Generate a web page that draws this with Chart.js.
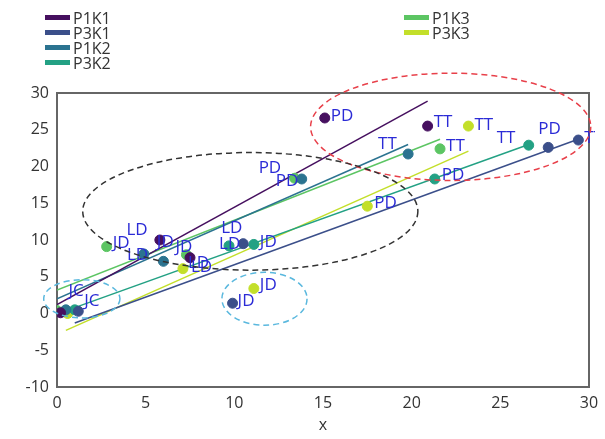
<!DOCTYPE html>
<html>
<head>
<meta charset="utf-8">
<script src="https://cdn.jsdelivr.net/npm/chart.js@4/dist/chart.umd.min.js"></script>
<style>
  html, body { margin: 0; padding: 0; background: #fff; }
  #wrap { position: relative; width: 605px; height: 439px; }
  #legend { position: absolute; left: 0; top: 0; width: 605px; height: 80px; font-family: "Open Sans", sans-serif; font-size: 16px; color: #333; }
  .item { position: absolute; display: flex; align-items: center; height: 15px; }
  .sw { width: 25px; height: 5px; margin-right: 3px; }
</style>
</head>
<body>
<div id="wrap">
  <canvas id="c" width="605" height="439"></canvas>
  <div id="legend"></div>
</div>
<script>
// --- DATA ---
const seriesNames = ["P1K1", "P3K1", "P1K2", "P3K2", "P1K3", "P3K3"];
const seriesColors = ["#46105f", "#3b4f8a", "#2b7390", "#23a184", "#5cc563", "#c3df2a"];
const stages = ["JC", "LD", "JD", "PD", "TT"];

const p1k1X = [0.2, 7.5, 5.8, 15.1, 20.9];
const p1k1Y = [0.1, 7.6, 10.0, 26.6, 25.5];
const p3k1X = [1.2, 10.5, 9.9, 27.7, 29.4];
const p3k1Y = [0.3, 9.5, 1.4, 22.6, 23.6];
const p1k2X = [0.5, 4.9, 6.0, 13.8, 19.8];
const p1k2Y = [0.5, 8.1, 7.1, 18.3, 21.7];
const p3k2X = [1.0, 9.7, 11.1, 21.3, 26.6];
const p3k2Y = [0.5, 9.2, 9.4, 18.3, 22.9];
const p1k3X = [0.0, 7.3, 2.8, 13.4, 21.6];
const p1k3Y = [0.4, 8.0, 9.1, 18.4, 22.4];
const p3k3X = [0.6, 7.1, 11.1, 17.5, 23.2];
const p3k3Y = [0.0, 6.1, 3.4, 14.6, 25.5];

// fitted lines: [start, end]
const fitX = [[0, 20.9], [1.0, 29.5], [0, 19.8], [1.0, 26.6], [0, 21.6], [0.5, 23.2]];
const fitY = [[1.2, 28.9], [-1.3, 23.8], [2.0, 23.0], [0.8, 23.0], [3.2, 23.7], [-2.3, 22.1]];

// which stage labels are visible per series
const showLabel = [
  [true, true, true, true, true],
  [true, true, true, true, true],
  [false, true, true, true, true],
  [false, true, true, true, true],
  [false, true, true, true, true],
  [false, true, true, true, true]
];

const xTicks = [0, 5, 10, 15, 20, 25, 30];
const yTicks = [-10, -5, 0, 5, 10, 15, 20, 25, 30];

// label offsets in px (dx, dy) from the point
const labelOffsets = {
  "0-0": [8, -22], "0-1": [-2, 6], "0-2": [-3, 2], "0-3": [6, -2], "0-4": [6, -4],
  "1-0": [6, -10], "1-1": [-22, -16], "1-2": [5, -2], "1-3": [-10, -18], "1-4": [6, -2],
  "2-1": [-17, 1], "2-2": [12, -14], "2-3": [-26, 2], "2-4": [-30, -10],
  "3-1": [-10, -2], "3-2": [6, -2], "3-3": [7, -4], "3-4": [-32, -7],
  "4-1": [-60, -25], "4-2": [6, -3], "4-3": [-36, -10], "4-4": [6, -3],
  "5-1": [8, -2], "5-2": [6, -3], "5-3": [7, -3], "5-4": [6, -1]
};

// dashed ellipses in data units: cx, cy, rx, ry, colour
const ellipses = [
  [22.2, 25.4, 7.9, 7.3, "#e8404a"],
  [10.9, 13.9, 9.45, 8.0, "#333333"],
  [1.4, 2.0, 2.15, 2.6, "#5ab8de"],
  [11.7, 2.0, 2.4, 3.6, "#5ab8de"]
];

const allX = [p1k1X, p3k1X, p1k2X, p3k2X, p1k3X, p3k3X];
const allY = [p1k1Y, p3k1Y, p1k2Y, p3k2Y, p1k3Y, p3k3Y];

const datasets = [];
seriesNames.forEach((name, i) => {
  datasets.push({
    type: "line",
    label: name,
    data: fitX[i].map((x, k) => ({ x: x, y: fitY[i][k] })),
    borderColor: seriesColors[i],
    borderWidth: 1.5,
    pointRadius: 0,
    fill: false,
    order: 2
  });
});
seriesNames.forEach((name, i) => {
  datasets.push({
    type: "scatter",
    label: name + " pts",
    data: allX[i].map((x, k) => ({ x: x, y: allY[i][k] })),
    backgroundColor: seriesColors[i],
    borderColor: seriesColors[i],
    pointRadius: 5,
    order: 1,
    seriesIndex: i
  });
});

const labelPlugin = {
  id: "pointLabels",
  afterDatasetsDraw(chart) {
    const ctx = chart.ctx;
    const area = chart.chartArea;
    ctx.save();
    ctx.beginPath();
    ctx.rect(area.left, area.top, area.right - area.left + 6, area.bottom - area.top);
    ctx.clip();
    ctx.font = "17px 'Open Sans', sans-serif";
    ctx.fillStyle = "#2b2bd6";
    ctx.textBaseline = "middle";
    chart.data.datasets.forEach((ds, di) => {
      if (ds.type !== "scatter") return;
      const s = ds.seriesIndex;
      const meta = chart.getDatasetMeta(di);
      meta.data.forEach((pt, k) => {
        if (!showLabel[s][k]) return;
        const off = labelOffsets[s + "-" + k] || [6, -2];
        ctx.fillText(stages[k], pt.x + off[0], pt.y + off[1]);
      });
    });
    ctx.restore();

    // dashed ellipses
    const xs = chart.scales.x, ys = chart.scales.y;
    ctx.save();
    ctx.setLineDash([6, 4]);
    ctx.lineWidth = 1.5;
    ellipses.forEach((e) => {
      const cx = xs.getPixelForValue(e[0]);
      const cy = ys.getPixelForValue(e[1]);
      const rx = Math.abs(xs.getPixelForValue(e[0] + e[2]) - cx);
      const ry = Math.abs(ys.getPixelForValue(e[1] + e[3]) - cy);
      ctx.strokeStyle = e[4];
      ctx.beginPath();
      ctx.ellipse(cx, cy, rx, ry, 0, 0, Math.PI * 2);
      ctx.stroke();
    });
    ctx.restore();
  }
};

const framePlugin = {
  id: "frame",
  beforeDatasetsDraw(chart) {
    const a = chart.chartArea;
    const ctx = chart.ctx;
    ctx.save();
    ctx.strokeStyle = "#666";
    ctx.lineWidth = 2;
    ctx.strokeRect(a.left, a.top, a.right - a.left, a.bottom - a.top);
    ctx.restore();
  }
};

new Chart(document.getElementById("c"), {
  data: { datasets: datasets },
  options: {
    responsive: false,
    animation: false,
    layout: { padding: { top: 93, right: 16, left: 0, bottom: 0 } },
    plugins: { legend: { display: false }, tooltip: { enabled: false } },
    scales: {
      x: {
        type: "linear",
        min: 0, max: 30,
        afterBuildTicks: (s) => { s.ticks = xTicks.map((v) => ({ value: v })); },
        afterFit: (s) => { s.height = 52; },
        grid: { display: false, drawTicks: true, tickLength: 6, tickColor: "#666" },
        border: { color: "#666", width: 2 },
        ticks: { color: "#333", font: { family: "Open Sans", size: 16 }, padding: 1 },
        title: { display: true, text: "x", color: "#333", font: { family: "Open Sans", size: 16 }, padding: { top: 2 } }
      },
      y: {
        type: "linear",
        min: -10, max: 30,
        afterBuildTicks: (s) => { s.ticks = yTicks.map((v) => ({ value: v })); },
        afterFit: (s) => { s.width = 57; },
        grid: { display: false, drawTicks: true, tickLength: 6, tickColor: "#666" },
        border: { color: "#666", width: 2 },
        ticks: { color: "#333", font: { family: "Open Sans", size: 16 }, padding: 2 }
      }
    }
  },
  plugins: [framePlugin, labelPlugin]
});

// --- LEGEND ---
const legend = document.getElementById("legend");
const legendPos = [[45, 10], [45, 25], [45, 40], [45, 55], [404, 10], [404, 25]];
seriesNames.forEach((name, i) => {
  const item = document.createElement("div");
  item.className = "item";
  item.style.left = legendPos[i][0] + "px";
  item.style.top = legendPos[i][1] + "px";
  item.innerHTML = `<div class="sw" style="background:${seriesColors[i]}"></div><span>${name}</span>`;
  legend.appendChild(item);
});
</script>
</body>
</html>
